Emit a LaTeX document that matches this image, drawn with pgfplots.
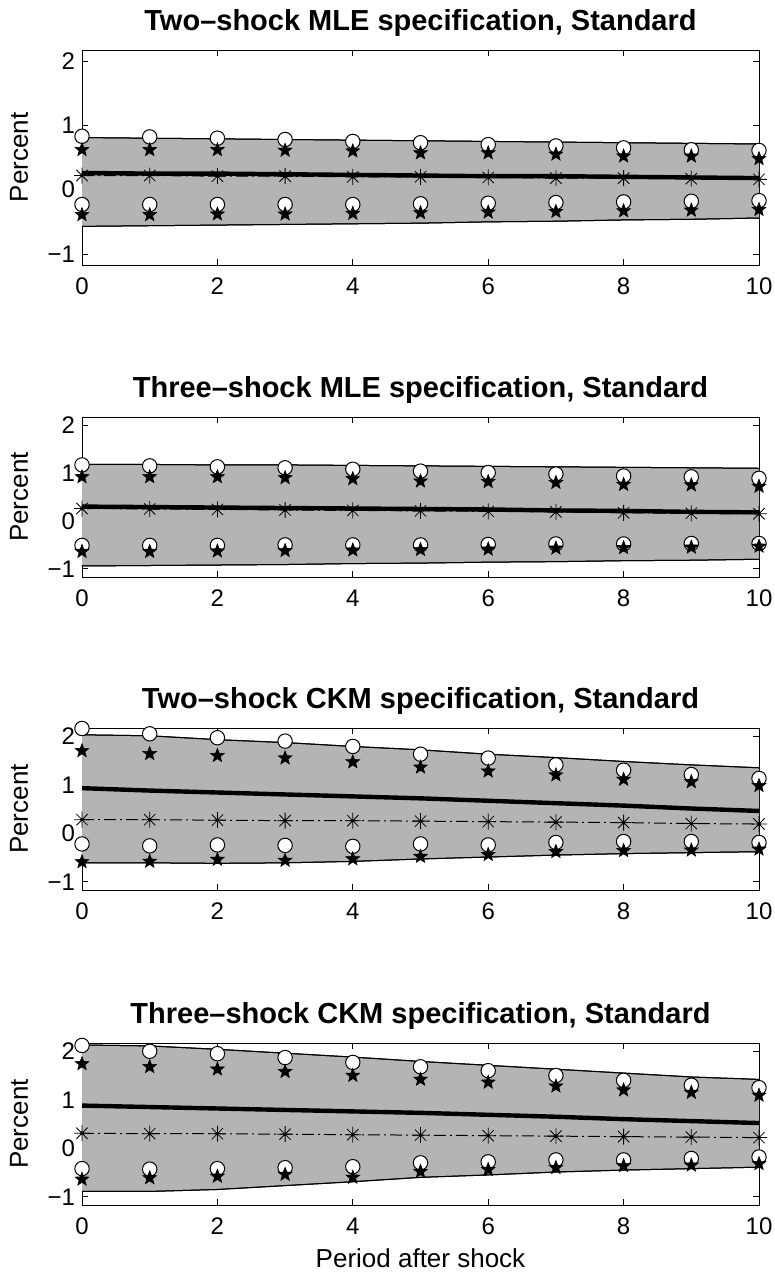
\documentclass[border=0pt]{standalone}
\usepackage{fontspec}
\setmainfont{Liberation Sans}
\usepackage{pgfplots}
\usepackage{pgfplotstable}
\pgfplotsset{compat=1.18}
\usepgfplotslibrary{fillbetween}
\definecolor{bandgray}{RGB}{180,180,180}

\pgfdeclareplotmark{pstar}{%
 \pgfpathmoveto{\pgfpointpolar{90}{\pgfplotmarksize}}%
 \pgfpathlineto{\pgfpointpolar{126}{0.42\pgfplotmarksize}}%
 \pgfpathlineto{\pgfpointpolar{162}{\pgfplotmarksize}}%
 \pgfpathlineto{\pgfpointpolar{198}{0.42\pgfplotmarksize}}%
 \pgfpathlineto{\pgfpointpolar{234}{\pgfplotmarksize}}%
 \pgfpathlineto{\pgfpointpolar{270}{0.42\pgfplotmarksize}}%
 \pgfpathlineto{\pgfpointpolar{306}{\pgfplotmarksize}}%
 \pgfpathlineto{\pgfpointpolar{342}{0.42\pgfplotmarksize}}%
 \pgfpathlineto{\pgfpointpolar{18}{\pgfplotmarksize}}%
 \pgfpathlineto{\pgfpointpolar{54}{0.42\pgfplotmarksize}}%
 \pgfpathclose\pgfusepathqfillstroke}
\pgfdeclareplotmark{mast}{%
 \pgfpathmoveto{\pgfqpoint{-\pgfplotmarksize}{0pt}}\pgfpathlineto{\pgfqpoint{\pgfplotmarksize}{0pt}}%
 \pgfpathmoveto{\pgfqpoint{0pt}{-\pgfplotmarksize}}\pgfpathlineto{\pgfqpoint{0pt}{\pgfplotmarksize}}%
 \pgfpathmoveto{\pgfpoint{-0.707\pgfplotmarksize}{-0.707\pgfplotmarksize}}\pgfpathlineto{\pgfpoint{0.707\pgfplotmarksize}{0.707\pgfplotmarksize}}%
 \pgfpathmoveto{\pgfpoint{-0.707\pgfplotmarksize}{0.707\pgfplotmarksize}}\pgfpathlineto{\pgfpoint{0.707\pgfplotmarksize}{-0.707\pgfplotmarksize}}%
 \pgfusepathqstroke
 \pgfpathcircle{\pgfpointorigin}{0.22\pgfplotmarksize}\pgfusepathqfill}

% columns: x, upper band, lower band, thick line, asterisk line, circles up, stars up, circles low, stars low
\pgfplotstableread{
x ub lb mean ast cu su cl sl
0 0.81 -0.57 0.26 0.22 0.83 0.62 -0.23 -0.39
1 0.80 -0.56 0.25 0.22 0.82 0.62 -0.23 -0.39
2 0.79 -0.55 0.25 0.21 0.80 0.62 -0.23 -0.38
3 0.78 -0.54 0.24 0.21 0.78 0.61 -0.23 -0.38
4 0.77 -0.53 0.23 0.20 0.75 0.60 -0.23 -0.37
5 0.76 -0.52 0.22 0.20 0.73 0.57 -0.22 -0.36
6 0.75 -0.50 0.21 0.19 0.70 0.57 -0.21 -0.35
7 0.74 -0.49 0.21 0.18 0.68 0.55 -0.20 -0.34
8 0.73 -0.47 0.20 0.18 0.65 0.52 -0.19 -0.33
9 0.72 -0.46 0.19 0.17 0.62 0.52 -0.18 -0.32
10 0.71 -0.44 0.18 0.16 0.61 0.48 -0.17 -0.31
}\tA
\pgfplotstableread{
x ub lb mean ast cu su cl sl
0 1.18 -0.94 0.30 0.26 1.17 0.92 -0.51 -0.64
1 1.18 -0.93 0.29 0.25 1.15 0.92 -0.51 -0.64
2 1.17 -0.92 0.28 0.24 1.13 0.92 -0.51 -0.63
3 1.17 -0.91 0.27 0.23 1.11 0.90 -0.50 -0.62
4 1.16 -0.89 0.26 0.22 1.08 0.88 -0.50 -0.61
5 1.15 -0.88 0.25 0.21 1.04 0.83 -0.50 -0.60
6 1.14 -0.86 0.24 0.20 1.01 0.82 -0.49 -0.59
7 1.13 -0.85 0.22 0.19 0.98 0.80 -0.48 -0.57
8 1.12 -0.83 0.21 0.17 0.94 0.76 -0.48 -0.56
9 1.11 -0.82 0.19 0.16 0.92 0.75 -0.47 -0.55
10 1.10 -0.80 0.18 0.15 0.89 0.72 -0.47 -0.53
}\tB
\pgfplotstableread{
x ub lb mean ast cu su cl sl
0 2.03 -0.61 0.93 0.28 2.16 1.70 -0.22 -0.59
1 2.01 -0.61 0.88 0.28 2.05 1.64 -0.26 -0.58
2 1.93 -0.62 0.84 0.27 1.97 1.60 -0.24 -0.54
3 1.87 -0.61 0.80 0.26 1.90 1.55 -0.25 -0.56
4 1.79 -0.58 0.76 0.26 1.79 1.47 -0.27 -0.53
5 1.72 -0.53 0.72 0.25 1.63 1.36 -0.22 -0.48
6 1.63 -0.49 0.67 0.24 1.55 1.28 -0.24 -0.44
7 1.56 -0.45 0.62 0.23 1.41 1.20 -0.19 -0.38
8 1.48 -0.42 0.57 0.22 1.30 1.11 -0.17 -0.36
9 1.41 -0.40 0.51 0.20 1.21 1.06 -0.17 -0.35
10 1.35 -0.38 0.46 0.19 1.13 0.98 -0.19 -0.33
}\tC
\pgfplotstableread{
x ub lb mean ast cu su cl sl
0 2.13 -0.89 0.88 0.31 2.12 1.74 -0.42 -0.64
1 2.11 -0.89 0.85 0.30 2.00 1.68 -0.43 -0.61
2 2.04 -0.85 0.82 0.30 1.95 1.63 -0.42 -0.58
3 1.96 -0.77 0.79 0.29 1.87 1.58 -0.40 -0.54
4 1.88 -0.69 0.76 0.28 1.77 1.50 -0.38 -0.60
5 1.79 -0.60 0.73 0.27 1.68 1.42 -0.30 -0.48
6 1.71 -0.55 0.69 0.26 1.60 1.36 -0.28 -0.44
7 1.63 -0.49 0.65 0.25 1.50 1.28 -0.24 -0.40
8 1.55 -0.45 0.60 0.24 1.40 1.20 -0.24 -0.36
9 1.47 -0.42 0.56 0.23 1.30 1.15 -0.21 -0.35
10 1.42 -0.39 0.52 0.22 1.25 1.09 -0.18 -0.32
}\tD

\pgfplotsset{
 panel/.style={
  scale only axis, width=338.5pt, anchor=north west,
  xmin=0, xmax=10, ymin=-1.17, ymax=2.17,
  xtick={0,2,4,6,8,10}, ytick={-1,0,1,2}, yticklabels={−1,0,1,2},
  tick align=inside, major tick length=3pt,
  tick style={black, line width=0.4pt},
  axis line style={line width=0.5pt},
  clip=false,
  /pgf/number format/assume math mode=true,
  tick label style={font=\fontsize{12}{14}\selectfont},
  x tick label style={text height=8.6pt, text depth=0pt, yshift=-2.5pt},
  ylabel={Percent},
  ylabel style={at={(axis description cs:-0.0931,0.5)}, anchor=center, font=\fontsize{13}{15}\selectfont},
  title style={at={(axis description cs:0.5,1)}, anchor=base, yshift=4pt, font=\fontsize{14.5}{17}\selectfont\bfseries},
 }
}

\newcommand\drawpanel[1]{%
  \addplot[black, line width=0.5pt, name path=u] table[x=x,y=ub]{#1};
  \addplot[black, line width=0.5pt, name path=l] table[x=x,y=lb]{#1};
  \addplot[bandgray, draw=none] fill between[of=u and l];
  \addplot[black, line width=0.5pt] table[x=x,y=ub]{#1};
  \addplot[black, line width=0.5pt] table[x=x,y=lb]{#1};
  \addplot[black, line width=2.2pt] table[x=x,y=mean]{#1};
  \addplot[black, line width=0.5pt, dash pattern=on 6pt off 2pt on 1pt off 2pt, mark=mast, mark size=4pt, mark options={solid, line width=0.4pt}] table[x=x,y=ast]{#1};
  \addplot[only marks, mark=*, mark size=3.6pt, mark options={fill=white, draw=black, line width=0.5pt}] table[x=x,y=cu]{#1};
  \addplot[only marks, mark=*, mark size=3.6pt, mark options={fill=white, draw=black, line width=0.5pt}] table[x=x,y=cl]{#1};
  \addplot[only marks, mark=pstar, mark size=3.6pt, mark options={fill=black, draw=black, line width=0.3pt}] table[x=x,y=su]{#1};
  \addplot[only marks, mark=pstar, mark size=3.6pt, mark options={fill=black, draw=black, line width=0.3pt}] table[x=x,y=sl]{#1};
}

\begin{document}
\begin{tikzpicture}
\begin{axis}[panel, at={(41pt,-25pt)}, height=107.5pt, title={Two–shock MLE specification, Standard}]
\drawpanel{\tA}
\end{axis}
\begin{axis}[panel, at={(41pt,-208.5pt)}, height=80pt, title={Three–shock MLE specification, Standard}]
\drawpanel{\tB}
\end{axis}
\begin{axis}[panel, at={(41pt,-364pt)}, height=81pt, title={Two–shock CKM specification, Standard}]
\drawpanel{\tC}
\end{axis}
\begin{axis}[panel, at={(41pt,-521.5pt)}, height=81pt, title={Three–shock CKM specification, Standard},
  xlabel={Period after shock},
  xlabel style={at={(axis description cs:0.5,0)}, anchor=center, yshift=-26.5pt, font=\fontsize{13}{15}\selectfont}]
\drawpanel{\tD}
\end{axis}
\pgfresetboundingbox
\useasboundingbox (0,0) rectangle (387.5pt,-637pt);
\end{tikzpicture}
\end{document}
